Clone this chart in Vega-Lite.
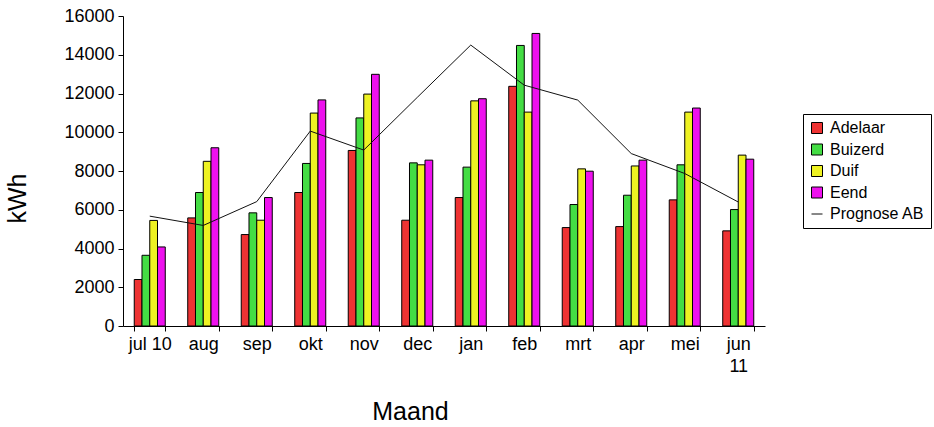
{
  "$schema": "https://vega.github.io/schema/vega-lite/v6.json",
  "width": 642,
  "height": 310,
  "autosize": {"type": "none"},
  "padding": {"left": 123, "top": 16, "right": 169, "bottom": 101},
  "background": "white",
  "datasets": {
    "bars": [
      {"maand": "jul 10", "reeks": "Adelaar", "kWh": 2400},
      {"maand": "jul 10", "reeks": "Buizerd", "kWh": 3650},
      {"maand": "jul 10", "reeks": "Duif", "kWh": 5450},
      {"maand": "jul 10", "reeks": "Eend", "kWh": 4080},
      {"maand": "aug", "reeks": "Adelaar", "kWh": 5580},
      {"maand": "aug", "reeks": "Buizerd", "kWh": 6890},
      {"maand": "aug", "reeks": "Duif", "kWh": 8500},
      {"maand": "aug", "reeks": "Eend", "kWh": 9200},
      {"maand": "sep", "reeks": "Adelaar", "kWh": 4720},
      {"maand": "sep", "reeks": "Buizerd", "kWh": 5840},
      {"maand": "sep", "reeks": "Duif", "kWh": 5460},
      {"maand": "sep", "reeks": "Eend", "kWh": 6630},
      {"maand": "okt", "reeks": "Adelaar", "kWh": 6890},
      {"maand": "okt", "reeks": "Buizerd", "kWh": 8390},
      {"maand": "okt", "reeks": "Duif", "kWh": 10990},
      {"maand": "okt", "reeks": "Eend", "kWh": 11670},
      {"maand": "nov", "reeks": "Adelaar", "kWh": 9060},
      {"maand": "nov", "reeks": "Buizerd", "kWh": 10740},
      {"maand": "nov", "reeks": "Duif", "kWh": 11970},
      {"maand": "nov", "reeks": "Eend", "kWh": 12990},
      {"maand": "dec", "reeks": "Adelaar", "kWh": 5460},
      {"maand": "dec", "reeks": "Buizerd", "kWh": 8420},
      {"maand": "dec", "reeks": "Duif", "kWh": 8320},
      {"maand": "dec", "reeks": "Eend", "kWh": 8560},
      {"maand": "jan", "reeks": "Adelaar", "kWh": 6630},
      {"maand": "jan", "reeks": "Buizerd", "kWh": 8200},
      {"maand": "jan", "reeks": "Duif", "kWh": 11620},
      {"maand": "jan", "reeks": "Eend", "kWh": 11730},
      {"maand": "feb", "reeks": "Adelaar", "kWh": 12370},
      {"maand": "feb", "reeks": "Buizerd", "kWh": 14480},
      {"maand": "feb", "reeks": "Duif", "kWh": 11040},
      {"maand": "feb", "reeks": "Eend", "kWh": 15100},
      {"maand": "mrt", "reeks": "Adelaar", "kWh": 5080},
      {"maand": "mrt", "reeks": "Buizerd", "kWh": 6270},
      {"maand": "mrt", "reeks": "Duif", "kWh": 8110},
      {"maand": "mrt", "reeks": "Eend", "kWh": 7990},
      {"maand": "apr", "reeks": "Adelaar", "kWh": 5130},
      {"maand": "apr", "reeks": "Buizerd", "kWh": 6750},
      {"maand": "apr", "reeks": "Duif", "kWh": 8260},
      {"maand": "apr", "reeks": "Eend", "kWh": 8560},
      {"maand": "mei", "reeks": "Adelaar", "kWh": 6510},
      {"maand": "mei", "reeks": "Buizerd", "kWh": 8320},
      {"maand": "mei", "reeks": "Duif", "kWh": 11040},
      {"maand": "mei", "reeks": "Eend", "kWh": 11250},
      {"maand": "jun 11", "reeks": "Adelaar", "kWh": 4910},
      {"maand": "jun 11", "reeks": "Buizerd", "kWh": 6010},
      {"maand": "jun 11", "reeks": "Duif", "kWh": 8820},
      {"maand": "jun 11", "reeks": "Eend", "kWh": 8610}
    ],
    "prognose": [
      {"maand": "jul 10", "kWh": 5670},
      {"maand": "aug", "kWh": 5190},
      {"maand": "sep", "kWh": 6420},
      {"maand": "okt", "kWh": 10060},
      {"maand": "nov", "kWh": 9080},
      {"maand": "dec", "kWh": 11800},
      {"maand": "jan", "kWh": 14500},
      {"maand": "feb", "kWh": 12430},
      {"maand": "mrt", "kWh": 11660},
      {"maand": "apr", "kWh": 8900},
      {"maand": "mei", "kWh": 7870},
      {"maand": "jun 11", "kWh": 6400}
    ]
  },
  "config": {
    "view": {"stroke": null},
    "font": "Liberation Sans",
    "legend": {
      "orient": "none",
      "legendX": 680,
      "legendY": 98,
      "strokeColor": "black",
      "padding": 6,
      "labelFont": "Liberation Sans",
      "labelFontSize": 16,
      "labelColor": "black",
      "symbolSize": 121,
      "symbolType": "square",
      "symbolStrokeWidth": 1,
      "rowPadding": 5.5,
      "labelOffset": 5
    },
    "axis": {
      "labelFont": "Liberation Sans",
      "labelFontSize": 18,
      "labelColor": "black",
      "titleFont": "Liberation Sans",
      "titleFontSize": 25,
      "titleFontWeight": "normal",
      "titleColor": "black",
      "domainColor": "black",
      "tickColor": "black",
      "grid": false
    }
  },
  "encoding": {
    "x": {
      "field": "maand",
      "type": "nominal",
      "sort": ["jul 10", "aug", "sep", "okt", "nov", "dec", "jan", "feb", "mrt", "apr", "mei", "jun 11"],
      "scale": {"paddingInner": 0.42, "paddingOuter": 0.21},
      "axis": {
        "title": "Maand",
        "labelAngle": 0,
        "tickBand": "extent",
        "tickSize": 5,
        "labelPadding": 4,
        "labelLineHeight": 22,
        "labelExpr": "datum.value == 'jun 11' ? ['jun', '11'] : datum.value",
        "titleX": 287,
        "titleY": 85,
        "titleAlign": "center",
        "titleBaseline": "middle",
        "titleAnchor": null
      }
    },
    "y": {
      "field": "kWh",
      "type": "quantitative",
      "scale": {"domain": [0, 16000], "nice": false},
      "axis": {
        "title": "kWh",
        "values": [0, 2000, 4000, 6000, 8000, 10000, 12000, 14000, 16000],
        "format": "d",
        "tickSize": 5,
        "labelPadding": 4,
        "titleAngle": -90,
        "titleX": -106,
        "titleY": 182,
        "titleAlign": "center",
        "titleBaseline": "middle"
      }
    }
  },
  "layer": [
    {
      "data": {"name": "bars"},
      "mark": {"type": "bar", "strokeWidth": 1},
      "encoding": {
        "xOffset": {"field": "reeks", "type": "nominal", "sort": ["Adelaar", "Buizerd", "Duif", "Eend"]},
        "fill": {
          "field": "reeks",
          "type": "nominal",
          "scale": {
            "domain": ["Adelaar", "Buizerd", "Duif", "Eend", "Prognose AB"],
            "range": ["#EE3333", "#44DD44", "#EEF222", "#EE11EE", "#000000"]
          },
          "legend": {
            "title": null,
            "encode": {
              "symbols": {
                "update": {
                  "shape": {"signal": "datum.value === 'Prognose AB' ? 'stroke' : 'square'"}
                }
              }
            }
          }
        },
        "stroke": {
          "field": "reeks",
          "type": "nominal",
          "scale": {
            "domain": ["Adelaar", "Buizerd", "Duif", "Eend", "Prognose AB"],
            "range": ["#000000", "#000000", "#000000", "#000000", "#111111"]
          },
          "legend": {
            "title": null,
            "encode": {
              "symbols": {
                "update": {
                  "shape": {"signal": "datum.value === 'Prognose AB' ? 'stroke' : 'square'"}
                }
              }
            }
          }
        }
      }
    },
    {
      "data": {"name": "prognose"},
      "mark": {"type": "line", "strokeWidth": 1},
      "encoding": {
        "stroke": {"datum": "Prognose AB", "legend": null}
      }
    }
  ]
}
